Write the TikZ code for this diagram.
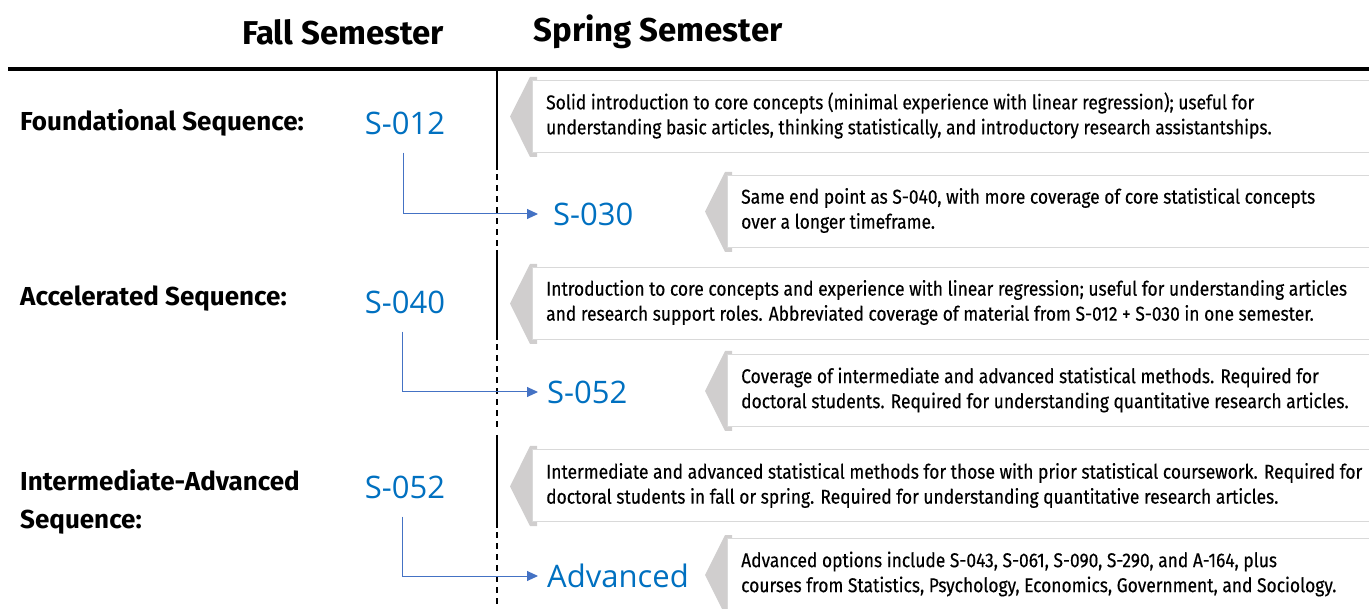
\documentclass[tikz,border=0pt]{standalone}
\usepackage{fontspec}
\setmainfont{Open Sans}
\newfontfamily\condfont[FakeStretch=0.87,FakeBold=0.3]{Fira Sans}
\newfontfamily\labfont{Fira Sans}
\newfontfamily\coursefont{Open Sans}
\definecolor{courseblue}{HTML}{0070C0}
\definecolor{connblue}{HTML}{4472C4}
\definecolor{chevgray}{HTML}{D0CECE}
\definecolor{boxborder}{HTML}{D9D9D9}
\usetikzlibrary{arrows.meta}
\tikzset{
  header/.style={font=\labfont\bfseries\fontsize{33}{36}\selectfont, inner sep=0pt},
  seqlabel/.style={font=\labfont\bfseries\fontsize{26}{38}\selectfont, anchor=west, align=left, inner sep=0pt},
  course/.style={font=\coursefont\fontsize{31}{34}\selectfont, text=courseblue, inner sep=0pt},
  descbox/.style={draw=boxborder, line width=1pt, fill=white, anchor=north west, minimum width=900pt, minimum height=72pt, inner sep=0pt},
  desctext/.style={font=\condfont\fontsize{20}{25}\selectfont, anchor=west, align=left, inner sep=0pt},
  chevron/.style={fill=chevgray, draw=none},
  conn/.style={draw=connblue, line width=1pt, -{Triangle[length=11pt,width=10pt]}},
  divider/.style={line width=2pt, black},
  dashpiece/.style={fill=black}
}
\newcommand{\descitem}[5]{% name, x, ytop, ycenter, text
  \fill[chevron] (#2-2,#3-3) -- (#2-22,#4+1) -- (#2-2,#3+77) -- (#2+5,#3+77) -- (#2+5,#3-3) -- cycle;
  \node[descbox] (#1) at (#2,#3) {};
  \node[desctext] (#1t) at (#2+14,#4) {#5};
}
\newcommand{\dashrun}[2]{% ystart, yend
  \foreach \yy in {#1,...,#2} {\ifnum\numexpr(\yy-#1)-((\yy-#1)/11)*11\relax=0 \ifnum\numexpr\yy+6\relax<#2 \fill[dashpiece] (496,\yy) rectangle (498.3,\yy+6);\fi\fi}
}
\begin{document}
\begin{tikzpicture}[x=1pt,y=-1pt]
\useasboundingbox (0,0) rectangle (1369,609);
% headers
\node[header] (fall) at (343,32) {Fall Semester};
\node[header] (spring) at (658,32) {Spring Semester};
% top rule
\draw[line width=4pt] (8,69) -- (1369,69);
% divider
\draw[divider] (497,69) -- (497,170);
\foreach \yy in {174,185,...,240} {\fill[dashpiece] (495.9,\yy) rectangle (498.3,\yy+6);}
\draw[divider] (497,250) -- (497,340);
\foreach \yy in {344,355,...,425} {\fill[dashpiece] (495.9,\yy) rectangle (498.3,\yy+6);}
\draw[divider] (497,435) -- (497,528);
\foreach \yy in {532,543,...,609} {\fill[dashpiece] (495.9,\yy) rectangle (498.3,\yy+6);}
% descriptions
\descitem{d1}{532}{80}{115.5}{Solid introduction to core concepts (minimal experience with linear regression); useful for\\understanding basic articles, thinking statistically, and introductory research assistantships.}
\descitem{d2}{727}{175}{210.5}{Same end point as S-040, with more coverage of core statistical concepts\\over a longer timeframe.}
\descitem{d3}{532}{267}{302.5}{Introduction to core concepts and experience with linear regression; useful for understanding articles\\and research support roles. Abbreviated coverage of material from S-012 + S-030 in one semester.}
\descitem{d4}{727}{354}{390}{Coverage of intermediate and advanced statistical methods. Required for\\doctoral students. Required for understanding quantitative research articles.}
\descitem{d5}{532}{449}{485.5}{Intermediate and advanced statistical methods for those with prior statistical coursework. Required for\\doctoral students in fall or spring. Required for understanding quantitative research articles.}
\descitem{d6}{727}{538}{574}{Advanced options include S-043, S-061, S-090, S-290, and A-164, plus\\courses from Statistics, Psychology, Economics, Government, and Sociology.}
% sequence labels
\node[seqlabel] (found) at (20,123) {Foundational Sequence:};
\node[seqlabel] (accel) at (20,299) {Accelerated Sequence:};
\node[seqlabel] (inter) at (20,502) {Intermediate-Advanced\\Sequence:};
% courses
\node[course] (s012) at (405,123) {S-012};
\node[course] (s040) at (405,302) {S-040};
\node[course] (s052f) at (405,487) {S-052};
\node[course, anchor=west] (s030) at (553,214) {S-030};
\node[course, anchor=west] (s052s) at (547,392) {S-052};
\node[course, anchor=west] (adv) at (547,576) {Advanced};
% connectors
\draw[conn] ([xshift=-2pt,yshift=-18pt]s012.south) |- ([xshift=-15pt]s030.west);
\draw[conn] ([xshift=-3pt,yshift=-18pt]s040.south) |- ([xshift=-9pt]s052s.west);
\draw[conn] ([xshift=-3pt,yshift=-18pt]s052f.south) |- ([xshift=-9pt]adv.west);
\end{tikzpicture}
\end{document}
